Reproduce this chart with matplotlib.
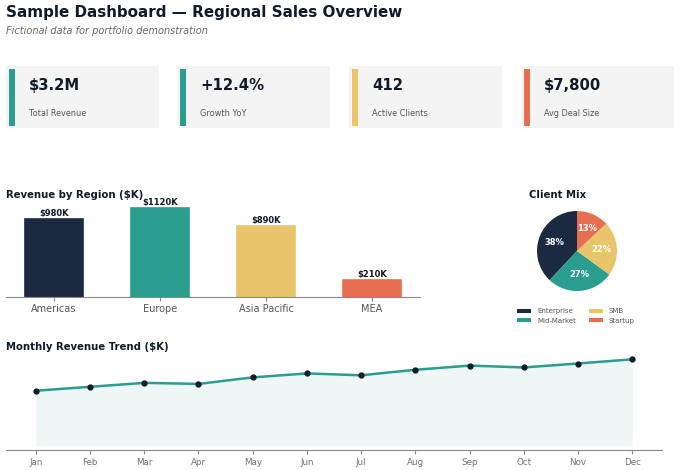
import matplotlib
matplotlib.use("Agg")
import matplotlib.pyplot as plt
from matplotlib.patches import Rectangle

W, H = 680, 470
NAVY = "#1b2a41"
TEAL = "#2a9d8f"
YELLOW = "#e9c46a"
ORANGE = "#e76f51"
DARK = "#0d1b2a"
GRAY = "#555555"

kpi_values = ["$3.2M", "+12.4%", "412", "$7,800"]
kpi_labels = ["Total Revenue", "Growth YoY", "Active Clients", "Avg Deal Size"]
kpi_colors = [TEAL, TEAL, YELLOW, ORANGE]

regions = ["Americas", "Europe", "Asia Pacific", "MEA"]
region_revenue = [980, 1120, 890, 210]
region_colors = [NAVY, TEAL, YELLOW, ORANGE]

segments = ["Enterprise", "Mid-Market", "SMB", "Startup"]
segment_share = [38, 27, 22, 13]
segment_colors = [NAVY, TEAL, YELLOW, ORANGE]

months = ["Jan", "Feb", "Mar", "Apr", "May", "Jun", "Jul", "Aug", "Sep", "Oct", "Nov", "Dec"]
monthly_revenue = [210, 225, 240, 236, 261, 276, 269, 290, 306, 299, 314, 330]

fig = plt.figure(figsize=(W / 100, H / 100), dpi=100)


def px(x0, y0, x1, y1):
    return [x0 / W, 1 - y1 / H, (x1 - x0) / W, (y1 - y0) / H]


def ftext(x, y, s, **kw):
    fig.text(x / W, 1 - y / H, s, **kw)


ftext(6, 12, "Sample Dashboard \u2014 Regional Sales Overview", fontsize=10.9,
      fontweight="bold", color=DARK, va="center", ha="left")
ftext(6, 31, "Fictional data for portfolio demonstration", fontsize=7,
      style="italic", color="#666666", va="center", ha="left")

# KPI cards
card_x = [6, 177, 349, 521]
for i, (v, lab, c) in enumerate(zip(kpi_values, kpi_labels, kpi_colors)):
    x0 = card_x[i]
    fig.patches.append(Rectangle((x0 / W, 1 - 128 / H), 153 / W, 62 / H,
                                 transform=fig.transFigure, facecolor="#f4f4f4",
                                 edgecolor="none", zorder=0))
    fig.patches.append(Rectangle(((x0 + 3) / W, 1 - 126 / H), 6 / W, 57 / H,
                                 transform=fig.transFigure, facecolor=c,
                                 edgecolor="none", zorder=1))
    ftext(x0 + 23, 86, v, fontsize=10.7, fontweight="bold", color=DARK,
          va="center", ha="left")
    ftext(x0 + 23, 113, lab, fontsize=5.9, color=GRAY, va="center", ha="left")

# Bar chart
axb = fig.add_axes(px(6, 199, 420, 297))
xs = range(len(regions))
axb.bar(xs, region_revenue, width=0.55, color=region_colors,
        edgecolor=region_colors, linewidth=1.2)
axb.set_ylim(0, max(region_revenue) * 1.1)
for x, v in zip(xs, region_revenue):
    axb.text(x, v + 15, f"${v}K", ha="center", va="bottom", fontsize=6,
             fontweight="bold", color=DARK)
axb.set_xticks(list(xs))
axb.set_xticklabels(regions, fontsize=7, color=GRAY)
axb.set_yticks([])
for s in ["top", "right", "left"]:
    axb.spines[s].set_visible(False)
axb.spines["bottom"].set_color("#888888")
axb.tick_params(axis="x", length=3, color="#888888", pad=2)
ftext(6, 195, "Revenue by Region ($K)", fontsize=7.3, fontweight="bold",
      color=DARK, va="center", ha="left")

# Pie
axp = fig.add_axes(px(527, 201, 627, 301))
wedges, _, autotexts = axp.pie(segment_share, colors=segment_colors, startangle=90,
                               autopct="%d%%", pctdistance=0.6,
                               wedgeprops=dict(linewidth=0),
                               textprops=dict(color="white", fontsize=6,
                                              fontweight="bold"))
axp.set_aspect("equal")
ftext(529, 195, "Client Mix", fontsize=7.3, fontweight="bold", color=DARK,
      va="center", ha="left")
fig.legend(wedges, segments, loc="center", bbox_to_anchor=(576 / W, 1 - 316 / H),
           ncol=2, frameon=False, fontsize=5, handlelength=2.0, handleheight=0.55,
           handletextpad=0.85, columnspacing=1.9, labelspacing=0.5,
           labelcolor="#555555")

# Line chart
axl = fig.add_axes(px(6, 355, 662, 450))
mx = list(range(len(months)))
axl.fill_between(mx, monthly_revenue, 0, color=TEAL, alpha=0.08, linewidth=0)
axl.plot(mx, monthly_revenue, color=TEAL, linewidth=1.8, marker="o",
         markersize=3.5, markerfacecolor=DARK, markeredgecolor=DARK)
axl.set_xticks(mx)
axl.set_xticklabels(months, fontsize=6.3, color="#707070")
axl.set_yticks([])
for s in ["top", "right", "left"]:
    axl.spines[s].set_visible(False)
axl.spines["bottom"].set_color("#888888")
axl.tick_params(axis="x", length=3, color="#888888", pad=3)
ftext(6, 347, "Monthly Revenue Trend ($K)", fontsize=7.3, fontweight="bold",
      color=DARK, va="center", ha="left")

fig.savefig("out.png", dpi=100, facecolor="white")
